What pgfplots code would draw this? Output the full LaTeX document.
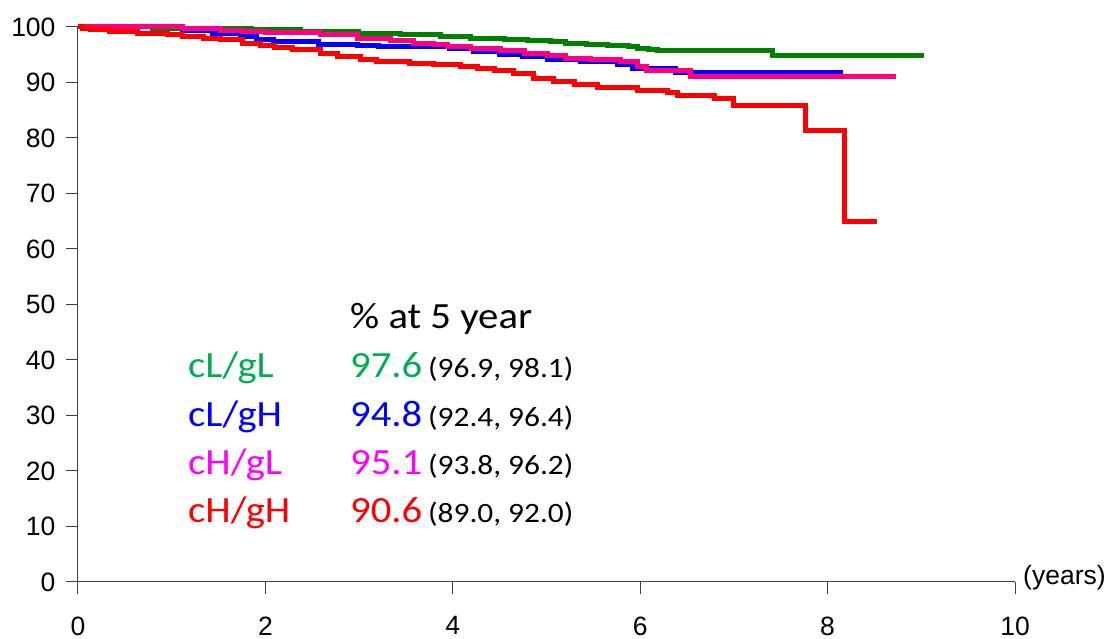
\documentclass[border=0pt]{standalone}
\usepackage{fontspec}
\setmainfont{Liberation Sans}
\newfontfamily\calibri{Carlito}
\usepackage{pgfplots}
\pgfplotsset{compat=1.18}
\definecolor{lgreen}{RGB}{0,128,0}
\definecolor{tgreen}{RGB}{0,176,80}
\definecolor{lblue}{RGB}{0,0,255}
\definecolor{lpink}{RGB}{255,0,128}
\definecolor{tpink}{RGB}{255,0,255}
\definecolor{lred}{RGB}{255,0,0}
\begin{document}
\begin{tikzpicture}
\useasboundingbox (-78pt,-57pt) rectangle (1032pt,582pt);
\begin{axis}[
  at={(0pt,0pt)}, anchor=south west,
  scale only axis, width=937pt, height=555pt,
  xmin=0, xmax=10, ymin=0, ymax=100,
  axis x line=bottom, axis y line=left,
  axis line style={-, line width=1pt, black!75},
  xtick={0,2,4,6,8,10}, ytick={0,10,...,100},
  tick align=outside, major tick length=12pt,
  tick style={line width=1pt, black!75},
  /pgf/number format/assume math mode=true,
  ticklabel style={font=\fontsize{26.5}{26.5}\selectfont},
  xticklabel style={yshift=-19pt},
  yticklabel style={xshift=-7pt},
  clip=false,
  every axis plot/.append style={const plot, line width=5pt, line join=miter},
]
\addplot[lgreen] coordinates {
(0,100) (0.8,99.8) (1.85,99.5) (2.37,99.1) (2.99,98.8) (3.44,98.6) (3.87,98.3)
(4.19,98.0) (4.55,97.8) (4.8,97.6) (5.04,97.3) (5.2,97.1) (5.43,96.9) (5.65,96.6)
(5.88,96.4) (5.97,96.2) (6.09,95.9) (6.18,95.7) (7.41,94.8) (9.03,94.8)};
\addplot[lblue] coordinates {
(0,100) (1.12,99.4) (1.44,98.9) (1.73,98.3) (1.91,97.7) (2.09,97.3) (2.57,96.9)
(2.98,96.7) (3.21,96.4) (3.97,96.2) (4.22,95.6) (4.5,95.0) (4.74,94.7) (5.01,94.1)
(5.36,93.7) (5.76,93.2) (5.92,92.6) (6.38,91.8) (8.16,91.8)};
\addplot[lpink] coordinates {
(0,100) (1.12,99.7) (1.52,99.4) (1.76,99.1) (2.0,99.0) (2.59,98.6) (2.98,98.0)
(3.33,97.5) (3.58,97.1) (3.79,96.8) (3.94,96.5) (4.19,96.2) (4.51,95.7) (4.76,95.3)
(5.01,94.9) (5.2,94.4) (5.47,94.1) (5.79,93.7) (5.97,92.9) (6.07,92.1) (6.54,91.0)
(8.73,91.0)};
\addplot[lred] coordinates {
(0,100) (0.05,99.7) (0.13,99.5) (0.34,99.2) (0.63,98.9) (0.95,98.6) (1.12,98.3)
(1.34,98.0) (1.52,97.7) (1.76,97.1) (1.95,96.7) (2.1,96.3) (2.29,95.9) (2.59,95.3)
(2.77,94.7) (3.01,94.1) (3.19,93.8) (3.54,93.5) (3.79,93.2) (4.08,92.8) (4.26,92.6)
(4.45,92.2) (4.65,91.7) (4.86,90.8) (5.07,90.2) (5.3,89.6) (5.54,89.1) (5.97,88.6)
(6.29,88.2) (6.40,87.6) (6.79,87.1) (7.0,85.8) (7.76,81.3) (8.18,64.9) (8.53,64.9)};
\end{axis}
\node[anchor=west, inner sep=0pt, font=\fontsize{26.5}{26.5}\selectfont] at (945pt,4pt) {(years)};
\begin{scope}[every node/.style={anchor=base west, inner sep=0pt}]
\node at (272pt,253pt) {\scalebox{1.1}[1]{\calibri\fontsize{37}{37}\selectfont \% at 5 year}};
\node[text=tgreen] at (110pt,204pt) {\scalebox{1.1}[1]{\calibri\fontsize{37}{37}\selectfont cL/gL}};
\node[text=lblue] at (110pt,155pt) {\scalebox{1.1}[1]{\calibri\fontsize{37}{37}\selectfont cL/gH}};
\node[text=tpink] at (110pt,107pt) {\scalebox{1.1}[1]{\calibri\fontsize{37}{37}\selectfont cH/gL}};
\node[text=lred] at (110pt,59pt) {\scalebox{1.1}[1]{\calibri\fontsize{37}{37}\selectfont cH/gH}};
\node[text=tgreen] at (272pt,204pt) {\scalebox{1.1}[1]{\calibri\fontsize{37}{37}\selectfont 97.6}};
\node[text=lblue] at (272pt,155pt) {\scalebox{1.1}[1]{\calibri\fontsize{37}{37}\selectfont 94.8}};
\node[text=tpink] at (272pt,107pt) {\scalebox{1.1}[1]{\calibri\fontsize{37}{37}\selectfont 95.1}};
\node[text=lred] at (272pt,59pt) {\scalebox{1.1}[1]{\calibri\fontsize{37}{37}\selectfont 90.6}};
\node at (350pt,204pt) {\scalebox{1.12}[1]{\calibri\fontsize{28}{28}\selectfont (96.9, 98.1)}};
\node at (350pt,155pt) {\scalebox{1.12}[1]{\calibri\fontsize{28}{28}\selectfont (92.4, 96.4)}};
\node at (350pt,107pt) {\scalebox{1.12}[1]{\calibri\fontsize{28}{28}\selectfont (93.8, 96.2)}};
\node at (350pt,59pt) {\scalebox{1.12}[1]{\calibri\fontsize{28}{28}\selectfont (89.0, 92.0)}};
\end{scope}
\end{tikzpicture}
\end{document}
